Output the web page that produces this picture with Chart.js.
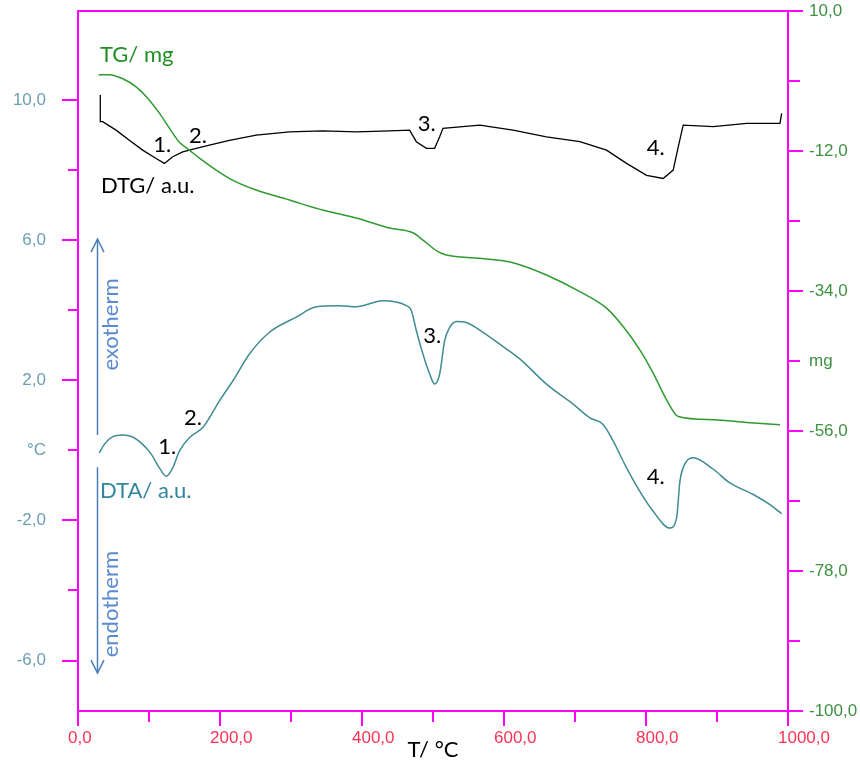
<!DOCTYPE html>
<html>
<head>
<meta charset="utf-8">
<script src="https://cdn.jsdelivr.net/npm/chart.js@4/dist/chart.umd.min.js"></script>
<style>
  html, body { margin: 0; padding: 0; background: #fff; }
  canvas { display: block; }
</style>
</head>
<body>
<canvas id="thermo" width="860" height="765"></canvas>
<script>
// TG: sample mass change (mg) vs temperature (°C), right axis
const tgTemp = [29, 44, 62.5, 81.8, 100.5, 114.6, 128.7, 142.8, 156.9, 171, 194.6, 217.5, 251, 297.9, 344.4,
  391.9, 438.9, 471.7, 485.8, 507, 518.8, 565.8, 612.7, 659.8, 706.8, 744.4, 767.8, 791.3, 810.1, 829, 845.4,
  894.7, 941.8, 988.7];
const tgMass = [0, 0, -0.61, -1.93, -4.01, -6.05, -8.41, -10.61, -11.86, -13.12, -15.0, -16.57, -18.14, -19.71,
  -21.28, -22.53, -24.1, -24.84, -25.99, -27.82, -28.34, -28.86, -29.55, -31.48, -34.1, -36.7, -39.59, -43.25,
  -46.9, -51.1, -53.72, -54.23, -54.66, -55.02];

// DTA signal, left axis
const dtaTemp = [30, 37.1, 48.8, 62.9, 77, 91.1, 102.9, 114.6, 124.1, 133.4, 142.8, 156.9, 175.7, 185.1, 199.2,
  218, 241.5, 269.7, 307.3, 335.5, 368.4, 391.9, 429.4, 462.4, 469.5, 476.5, 485.8, 495.3, 502.3, 509.4, 516.4,
  523.5, 532.9, 547, 570.4, 594, 622.2, 659.8, 697.3, 720.9, 739.6, 753.7, 772.6, 791.3, 810.1, 833.6, 843.1,
  847.8, 857.2, 866.5, 894.7, 918.2, 951.1, 974.6, 991.1];
const dtaSignal = [-0.07, 0.17, 0.39, 0.44, 0.38, 0.17, -0.10, -0.50, -0.74, -0.50, -0.02, 0.36, 0.65, 0.93, 1.41,
  1.98, 2.75, 3.37, 3.80, 4.10, 4.13, 4.10, 4.27, 4.13, 3.99, 3.42, 2.75, 2.18, 1.89, 2.18, 3.13,
  3.51, 3.68, 3.65, 3.37, 3.03, 2.61, 1.89, 1.32, 0.93, 0.74, 0.27, -0.50, -1.17, -1.74, -2.22, -1.93,
  -0.88, -0.31, -0.21, -0.54, -0.93, -1.26, -1.55, -1.81];

// DTG signal (a.u.), drawn against the left axis
const dtgTemp = [31.4, 31.4, 34.7, 53.6, 72.3, 91.1, 110, 121.7, 133.4, 147.5, 166.4, 185.1, 213.3, 251, 297.9,
  344.9, 391.9, 438.9, 467.1, 476.5, 490.6, 502.3, 509.4, 514, 565.8, 612.7, 659.8, 706.8, 744.4, 772.6, 800.8,
  824.2, 838.3, 845.4, 852.4, 894.7, 941.8, 988.7, 991.1];
const dtgSignal = [10.14, 9.38, 9.38, 9.14, 8.85, 8.57, 8.33, 8.19, 8.38, 8.52, 8.62, 8.71, 8.85, 9.0, 9.09,
  9.12, 9.09, 9.12, 9.14, 8.81, 8.62, 8.62, 8.95, 9.19, 9.28, 9.14, 8.95, 8.81, 8.57, 8.19, 7.85,
  7.76, 8.0, 8.66, 9.28, 9.24, 9.33, 9.33, 9.62];

// axis ranges
const tempRange = [0, 1000];
const dtaRange = [-7.44, 12.54];
const massRange = [-100, 10];

// text labels placed in (°C, left-axis) units, baseline-left
const curveLabels = [
  { text: 'TG/ mg', t: 31, v: 11.09, color: '#1f8f22' },
  { text: 'DTG/ a.u.', t: 32.4, v: 7.34, color: '#000' },
  { text: 'DTA/ a.u.', t: 31, v: -1.37, color: '#31859c' },
  { text: '1.', t: 106.1, v: 8.52, color: '#000' },
  { text: '2.', t: 156.3, v: 8.76, color: '#000' },
  { text: '3.', t: 478.5, v: 9.12, color: '#000' },
  { text: '4.', t: 801, v: 8.43, color: '#000' },
  { text: '1.', t: 113.1, v: -0.10, color: '#000' },
  { text: '2.', t: 149.3, v: 0.72, color: '#000' },
  { text: '3.', t: 486.3, v: 3.07, color: '#000' },
  { text: '4.', t: 801, v: -0.96, color: '#000' }
];

const AXIS = '#ff00ff';
const LABEL_FONT = '22px Lato, "Open Sans", sans-serif';
const comma = v => v.toFixed(1).replace('.', ',');
const pts = (xs, ys) => xs.map((x, i) => ({ x, y: ys[i] }));

function stroke(ctx, x1, y1, x2, y2) {
  ctx.beginPath();
  ctx.moveTo(x1, y1);
  ctx.lineTo(x2, y2);
  ctx.stroke();
}

// fixed axis boxes so the plot frame sits where it should
function fixBox(size) {
  return s => {
    if (s.isHorizontal()) s.height = size; else s.width = size;
    s.paddingTop = s.paddingBottom = s.paddingLeft = s.paddingRight = 0;
  };
}

// tick marks and the top border of the frame
const frame = {
  id: 'frame',
  afterDraw(chart) {
    const { ctx, chartArea: a, scales } = chart;
    ctx.save();
    ctx.strokeStyle = AXIS;
    ctx.lineWidth = 2;
    stroke(ctx, a.left, a.top, a.right, a.top);
    scales.x.ticks.forEach(t => {
      const px = Math.round(scales.x.getPixelForValue(t.value));
      stroke(ctx, px, a.bottom, px, a.bottom + (t.value % 200 === 0 ? 15 : 11));
    });
    scales.y.ticks.forEach(t => {
      if (t.value > 10) return;
      const py = Math.round(scales.y.getPixelForValue(t.value));
      stroke(ctx, a.left - ((10 - t.value) % 4 === 0 ? 16 : 10), py, a.left, py);
    });
    scales.y2.ticks.forEach(t => {
      const py = Math.round(scales.y2.getPixelForValue(t.value));
      stroke(ctx, a.right, py, a.right + ((10 - t.value) % 22 === 0 ? 15 : 12), py);
    });
    ctx.restore();
  }
};

// curve names, peak numbers and the exo/endo arrows
const notes = {
  id: 'notes',
  afterDatasetsDraw(chart) {
    const { ctx, scales: { x, y } } = chart;
    ctx.save();
    ctx.font = LABEL_FONT;
    ctx.textAlign = 'left';
    ctx.textBaseline = 'alphabetic';
    curveLabels.forEach(l => {
      ctx.fillStyle = l.color;
      ctx.fillText(l.text, x.getPixelForValue(l.t), y.getPixelForValue(l.v));
    });

    const ax = Math.round(x.getPixelForValue(26.3)) + 0.5;
    ctx.strokeStyle = '#4a7ebb';
    ctx.lineWidth = 1.5;
    const arrow = (from, to) => {
      const y1 = y.getPixelForValue(from), y2 = y.getPixelForValue(to);
      const d = y2 < y1 ? 1 : -1;
      stroke(ctx, ax, y1, ax, y2);
      ctx.beginPath();
      ctx.moveTo(ax - 6.5, y2 + d * 13);
      ctx.lineTo(ax, y2);
      ctx.lineTo(ax + 6.5, y2 + d * 13);
      ctx.stroke();
    };
    arrow(0.44, 6.03);
    arrow(-0.48, -6.36);

    ctx.fillStyle = '#5a8ad0';
    ctx.textAlign = 'center';
    ctx.textBaseline = 'middle';
    const tx = x.getPixelForValue(45.8);
    [['exotherm', 3.59], ['endotherm', -4.39]].forEach(([s, v]) => {
      ctx.save();
      ctx.translate(tx, y.getPixelForValue(v));
      ctx.rotate(-Math.PI / 2);
      ctx.fillText(s, 0, 0);
      ctx.restore();
    });
    ctx.restore();
  }
};

const tickFont = { family: '"Liberation Sans", Arial, sans-serif', size: 17 };

new Chart(document.getElementById('thermo'), {
  type: 'line',
  data: {
    datasets: [
      {
        label: 'TG', data: pts(tgTemp, tgMass), yAxisID: 'y2',
        borderColor: '#2e9a30', borderWidth: 1.5, pointRadius: 0,
        cubicInterpolationMode: 'monotone'
      },
      {
        label: 'DTG', data: pts(dtgTemp, dtgSignal), yAxisID: 'y',
        borderColor: '#000', borderWidth: 1.3, pointRadius: 0, tension: 0
      },
      {
        label: 'DTA', data: pts(dtaTemp, dtaSignal), yAxisID: 'y',
        borderColor: '#3f8c93', borderWidth: 1.5, pointRadius: 0,
        cubicInterpolationMode: 'monotone'
      }
    ]
  },
  options: {
    responsive: false,
    animation: false,
    devicePixelRatio: 1,
    layout: { padding: { top: 11, left: 0, right: 0, bottom: 0 } },
    plugins: { legend: { display: false }, tooltip: { enabled: false } },
    scales: {
      x: {
        type: 'linear', position: 'bottom',
        min: tempRange[0], max: tempRange[1],
        grid: { drawOnChartArea: false, drawTicks: false },
        border: { color: AXIS, width: 2 },
        ticks: {
          stepSize: 100, autoSkip: false, maxRotation: 0,
          align: 'start', labelOffset: -10, padding: 17,
          color: '#ff3355', font: tickFont,
          callback: v => (v % 200 === 0 ? comma(v) : '')
        },
        title: {
          display: true, text: 'T/ °C', color: '#000',
          font: { family: 'Lato, "Open Sans", sans-serif', size: 22 },
          padding: { top: 0, bottom: 2 }
        },
        afterFit: fixBox(54)
      },
      y: {
        type: 'linear', position: 'left',
        min: dtaRange[0], max: dtaRange[1],
        grid: { drawOnChartArea: false, drawTicks: false },
        border: { color: AXIS, width: 2 },
        ticks: {
          stepSize: 2, includeBounds: false, padding: 32,
          color: '#6a9fb3', font: tickFont,
          callback: v => (v === 0 ? '°C' : (v <= 10 && (10 - v) % 4 === 0 ? comma(v) : ''))
        },
        afterFit: fixBox(78)
      },
      y2: {
        type: 'linear', position: 'right',
        min: massRange[0], max: massRange[1],
        grid: { drawOnChartArea: false, drawTicks: false },
        border: { color: AXIS, width: 2 },
        ticks: {
          stepSize: 11, padding: 21,
          color: '#3f9142', font: tickFont,
          callback: v => (v === -45 ? 'mg' : ((10 - v) % 22 === 0 ? comma(v) : ''))
        },
        afterFit: fixBox(72)
      }
    }
  },
  plugins: [frame, notes]
});
</script>
</body>
</html>
